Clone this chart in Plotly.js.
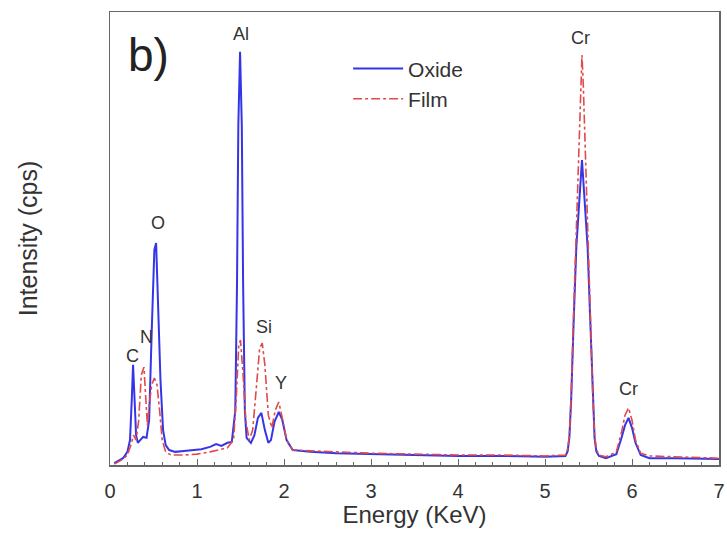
<!DOCTYPE html>
<html>
<head>
<meta charset="utf-8">
<script src="https://cdn.plot.ly/plotly-3.0.1.min.js"></script>
<style>html,body{margin:0;padding:0;background:#fff;}#chart{width:727px;height:533px;}</style>
</head>
<body>
<div id="chart"></div>
<script>
// Energy (keV) and intensity (arbitrary cps units)
const oxideEnergy = [0.05,0.10,0.15,0.20,0.23,0.25,0.265,0.28,0.30,0.32,0.35,0.38,0.42,0.45,0.48,0.51,0.53,0.55,0.58,0.61,0.64,0.68,0.75,0.85,0.95,1.05,1.15,1.22,1.28,1.35,1.40,1.44,1.46,1.475,1.495,1.515,1.53,1.55,1.57,1.62,1.66,1.70,1.74,1.78,1.82,1.85,1.89,1.94,1.98,2.03,2.10,2.30,2.6,3.0,3.5,4.0,4.5,5.0,5.235,5.26,5.28,5.30,5.33,5.36,5.40,5.425,5.45,5.49,5.52,5.55,5.57,5.59,5.62,5.70,5.82,5.88,5.92,5.96,6.00,6.04,6.10,6.2,6.5,7.0];
const oxideIntensity = [0.4,0.9,1.5,2.9,5.5,14.3,22.1,15.5,6.6,4.9,5.5,6.2,6.0,9.9,29.8,47.5,49.0,38.4,18.8,7.7,4.4,3.3,2.9,3.1,3.3,3.5,4.0,4.6,4.2,4.9,5.1,12.0,40.0,75.0,91.2,75.0,40.0,12.0,6.0,4.9,6.6,10.4,11.5,7.7,4.9,5.5,9.5,11.7,10.0,5.5,3.3,2.9,2.6,2.4,2.2,2.0,2.0,1.8,2.0,3.0,6.0,14.0,32.0,48.0,60.0,67.3,60.0,48.0,32.0,14.0,6.0,3.0,2.0,1.5,2.4,6.0,8.8,10.4,8.2,4.9,2.2,1.5,1.5,1.3];

const filmEnergy = [0.05,0.10,0.15,0.20,0.24,0.27,0.30,0.33,0.36,0.39,0.41,0.43,0.45,0.48,0.51,0.54,0.57,0.60,0.64,0.70,0.85,1.00,1.15,1.25,1.35,1.42,1.45,1.48,1.50,1.53,1.56,1.60,1.64,1.68,1.72,1.75,1.78,1.82,1.86,1.90,1.94,1.98,2.03,2.10,2.30,2.6,3.0,3.5,4.0,4.5,5.0,5.235,5.26,5.28,5.30,5.33,5.36,5.39,5.41,5.425,5.44,5.46,5.49,5.52,5.55,5.57,5.59,5.62,5.70,5.82,5.88,5.92,5.96,6.00,6.04,6.10,6.2,6.5,7.0];
const filmIntensity = [0.2,0.7,1.3,2.2,4.4,6.6,5.5,9.9,19.9,21.6,15.5,8.8,13.2,17.7,19.2,17.7,12.1,5.5,2.9,2.2,2.2,2.4,2.9,3.3,3.8,5.5,14.3,26.5,27.6,19.9,9.9,5.5,7.7,16.6,25.8,26.9,22.1,11.0,8.2,12.1,13.9,10.4,5.5,3.3,3.1,2.9,2.6,2.4,2.2,2.2,2.0,2.2,3.5,6.5,15.0,34.0,52.0,70.0,84.0,90.5,84.0,70.0,52.0,34.0,15.0,6.5,3.5,2.2,1.8,2.9,7.3,11.0,12.6,9.9,5.5,2.6,2.0,1.8,1.5];

const seriesNames = ["Oxide", "Film"];
const peakLabels = ["C", "N", "O", "Al", "Si", "Y", "Cr", "Cr"];
const panelLabel = "b)";
const xTickValues = [0,1,2,3,4,5,6,7];
const xTickLabels = ["0","1","2","3","4","5","6","7"];
const xTitle = "Energy (KeV)";
const yTitle = "Intensity (cps)";

const FONT = "Liberation Sans, Arial, sans-serif";
const TXT = "#333333";

const traces = [
  {x: oxideEnergy, y: oxideIntensity, name: seriesNames[0], mode: "lines",
   line: {color: "#3535e8", width: 2}},
  {x: filmEnergy, y: filmIntensity, name: seriesNames[1], mode: "lines",
   line: {color: "#e04a4a", width: 1.6, dash: "dashdot"}}
];

// annotation anchor positions (data coordinates) for each peak label
const labelPos = [[0.26,24.1],[0.42,28.2],[0.55,53.5],[1.51,95.1],[1.77,30.5],[1.97,18.2],[5.41,94.2],[5.96,16.8]];
const annotations = peakLabels.map((t, i) => ({
  x: labelPos[i][0], y: labelPos[i][1], xref: "x", yref: "y", text: t,
  showarrow: false, xanchor: "center", yanchor: "middle",
  font: {family: FONT, size: 18, color: TXT}
}));
annotations.push({x: 0.026, y: 0.905, xref: "paper", yref: "paper", text: panelLabel,
  showarrow: false, xanchor: "left", yanchor: "middle",
  font: {family: FONT, size: 46, color: "#222"}});

const layout = {
  width: 727, height: 533,
  margin: {l: 110, r: 8, t: 12, b: 68},
  paper_bgcolor: "#fff", plot_bgcolor: "#fff",
  showlegend: true,
  legend: {x: 0.391, y: 0.92, xanchor: "left", yanchor: "top", bgcolor: "rgba(0,0,0,0)",
    font: {family: FONT, size: 21, color: TXT}, tracegroupgap: 0, itemwidth: 50},
  xaxis: {
    range: [0, 7], showline: true, mirror: true, linecolor: "#666", linewidth: 1.5,
    showgrid: false, zeroline: false,
    tickmode: "array", tickvals: xTickValues, ticktext: xTickLabels,
    ticks: "inside", ticklen: 6, tickcolor: "#666", tickwidth: 1,
    minor: {dtick: 0.2, ticks: "inside", ticklen: 3, tickcolor: "#666", showgrid: false},
    tickfont: {family: FONT, size: 20, color: TXT}, ticklabelstandoff: 7,
    title: {text: xTitle, font: {family: FONT, size: 24, color: TXT}, standoff: 3}
  },
  yaxis: {
    range: [0, 100], showline: true, mirror: true, linecolor: "#666", linewidth: 1.5,
    showgrid: false, zeroline: false, showticklabels: false, ticks: "",
    title: {text: yTitle, font: {family: FONT, size: 25, color: TXT}, standoff: 64}
  },
  annotations: annotations
};

Plotly.newPlot("chart", traces, layout, {displayModeBar: false, staticPlot: true});
</script>
</body>
</html>
